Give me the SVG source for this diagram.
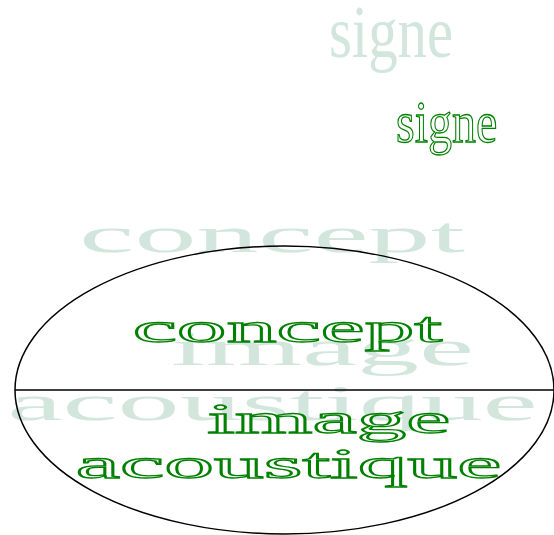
<svg xmlns="http://www.w3.org/2000/svg" width="554" height="535" viewBox="0 0 554 535">
<style>
.faded{font-family:"Liberation Serif","Times New Roman",serif;fill:#d3e6de;stroke:none}
.outl{font-family:"Liberation Serif","Times New Roman",serif;fill:#ffffff;stroke:#008000;stroke-width:1.3}
.line{fill:none;stroke:#000;stroke-width:1.5}
</style>
<rect width="554" height="535" fill="#fff"/>
<g id="faded-signe"><text class="faded" transform="scale(0.785,1)" x="419" y="57" font-size="75">signe</text></g>
<g id="faded-labels" transform="scale(2.48,1)">
<text class="faded" x="32" y="252" font-size="50">concept</text>
<text class="faded" x="69" y="365" font-size="50">image</text>
<text class="faded" x="3" y="420" font-size="50">acoustique</text>
</g>
<g id="connectors">
<ellipse class="line" cx="284.5" cy="390" rx="269.5" ry="144"/>
<line class="line" x1="15" y1="390" x2="554" y2="390"/>
</g>
<g id="signe"><text class="outl" transform="scale(0.8,1)" x="495" y="142" font-size="60" stroke-width="1.8">signe</text></g>
<g id="concept"><text class="outl" transform="scale(2.37,1)" x="56" y="342" font-size="42">concept</text></g>
<g id="image-acoustique" transform="scale(2.37,1)">
<text class="outl" x="87.5" y="433" font-size="42">image</text>
<text class="outl" x="32" y="478" font-size="42">acoustique</text>
</g>
</svg>
